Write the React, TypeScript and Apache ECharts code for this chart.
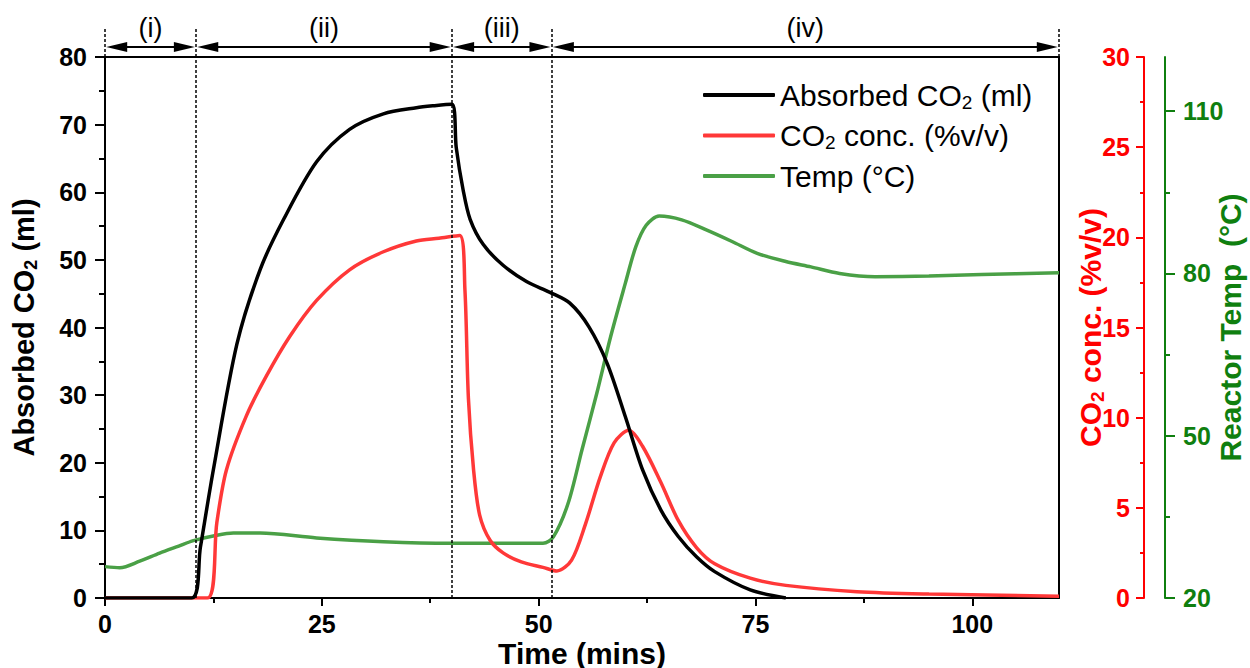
import React, { useEffect, useRef } from 'react';
import * as echarts from 'echarts';

// ---------- data ----------
const absorbedTime = [0, 10.0, 11.0, 12.5, 15.2, 17.9, 20.6, 24.4, 28.2, 32.1, 35.9, 38.0, 40.0, 40.5, 41.3, 42.1, 43.6, 45.9, 48.6, 51.3, 53.6, 55.8, 57.9, 60.0, 62.0, 64.1, 66.1, 68.2, 70.3, 74.4, 78.5];
const absorbedValues = [0, 0, 7.5, 19.0, 37.5, 48.6, 56.0, 64.5, 69.3, 71.6, 72.5, 72.8, 73.0, 66.6, 60.3, 56.0, 52.3, 49.2, 46.8, 45.2, 43.6, 40.1, 34.7, 26.8, 18.9, 13.0, 9.1, 6.1, 3.9, 1.2, 0.0];

const concTime = [0, 11.8, 12.9, 14.0, 16.3, 18.6, 21.3, 24.4, 28.2, 32.1, 35.9, 38.5, 40.9, 41.5, 41.9, 42.5, 43.2, 44.4, 45.9, 48.0, 50.5, 52.1, 53.8, 55.4, 57.1, 58.7, 60.4, 62.0, 64.1, 66.1, 68.2, 70.3, 74.4, 78.5, 86.7, 95.0, 110];
const concValues = [0, 0, 4.2, 7.1, 10.1, 12.3, 14.5, 16.5, 18.2, 19.2, 19.8, 19.95, 20.1, 17.1, 11.1, 7.1, 4.6, 3.2, 2.5, 2.0, 1.7, 1.5, 2.1, 4.1, 6.7, 8.6, 9.3, 8.4, 6.4, 4.3, 2.8, 1.9, 1.1, 0.7, 0.35, 0.22, 0.1];

const tempTime = [0, 1.7, 4.0, 6.3, 8.5, 10.2, 12.9, 14.8, 17.9, 24.4, 32.1, 39.8, 50.5, 51.7, 53.4, 55.0, 56.7, 58.3, 60.0, 61.2, 62.4, 63.9, 66.5, 69.4, 72.3, 75.2, 78.5, 81.4, 84.7, 88.8, 95.0, 101.1, 110];
const tempValues = [25.8, 25.6, 26.8, 28.3, 29.6, 30.6, 31.6, 32.0, 32.0, 31.1, 30.4, 30.1, 30.1, 31.3, 37.5, 47.4, 57.8, 68.3, 78.2, 84.9, 88.9, 90.6, 89.9, 88.0, 85.9, 83.7, 82.2, 81.2, 80.0, 79.4, 79.5, 79.8, 80.1];

const xMajorTicks = [0, 25, 50, 75, 100];
const xMinorTicks = [12.5, 37.5, 62.5, 87.5];
const leftMajorTicks = [0, 10, 20, 30, 40, 50, 60, 70, 80];
const leftMinorTicks = [5, 15, 25, 35, 45, 55, 65, 75];
const concMajorTicks = [0, 5, 10, 15, 20, 25, 30];
const concMinorTicks = [2.5, 7.5, 12.5, 17.5, 22.5, 27.5];
const tempMajorTicks = [20, 50, 80, 110];
const tempMinorTicks = [35, 65, 95];

const stageBounds = [0, 10.5, 40, 51.5, 110];
const stageLabels = ['(i)', '(ii)', '(iii)', '(iv)'];

const seriesNames = ['Absorbed CO2 (ml)', 'CO2 conc. (%v/v)', 'Temp (°C)'];
const legendRich: Record<string, string> = {
  'Absorbed CO2 (ml)': '{n|Absorbed CO}{s|2}{n| (ml)}',
  'CO2 conc. (%v/v)': '{n|CO}{s|2}{n| conc. (%v/v)}',
  'Temp (°C)': '{n|Temp (°C)}',
};

const zip = (xs: number[], ys: number[]) => xs.map((x, i) => [x, ys[i]]);

const ARIAL = "'Liberation Sans', Arial, sans-serif";
const RED = '#ff0000';
const RED_LINE = '#ff3838';
const GREEN = '#0f7f0f';
const GREEN_LINE = '#4aa046';

export default function App() {
  const ref = useRef<HTMLDivElement>(null);

  useEffect(() => {
    if (!ref.current) return;
    const chart = echarts.init(ref.current, undefined, { renderer: 'svg' });

    const tickLabel = (color: string) => ({
      fontFamily: ARIAL,
      fontWeight: 'bold' as const,
      fontSize: 25,
      color,
    });

    const minorAxisBase = {
      axisLine: { show: false, onZero: false },
      axisLabel: { show: false },
      splitLine: { show: false },
    };

    const pad = 1.35;
    const dashStyle = { color: '#000', width: 1.5, type: [3, 2] };

    const option: any = {
      animation: false,
      backgroundColor: '#ffffff',
      grid: [
        { left: 105, right: 191, top: 57, bottom: 70, containLabel: false, outerBoundsMode: 'none' },
        { left: 105, right: 191, top: 28, height: 29, containLabel: false, outerBoundsMode: 'none' },
      ],
      legend: {
        data: seriesNames,
        orient: 'vertical',
        left: 698,
        top: 75,
        icon: 'roundRect',
        itemWidth: 72,
        itemHeight: 4,
        itemGap: 9,
        selectedMode: false,
        formatter: (name: string) => legendRich[name] || name,
        textStyle: {
          color: '#000',
          rich: {
            n: { fontFamily: ARIAL, fontSize: 30, color: '#000' },
            s: { fontFamily: ARIAL, fontSize: 19, color: '#000', padding: [14, 0, 0, 0] },
          },
        },
      },
      xAxis: [
        {
          type: 'value', gridIndex: 0, min: 0, max: 110, position: 'bottom',
          axisLine: { show: true, onZero: false, lineStyle: { color: '#000', width: 2 } },
          axisTick: { show: true, customValues: xMajorTicks, length: 8, lineStyle: { color: '#000', width: 2 } },
          axisLabel: { customValues: xMajorTicks, margin: 13, ...tickLabel('#000') },
          splitLine: { show: false },
          name: 'Time (mins)', nameLocation: 'middle', nameGap: 40, nameMoveOverlap: false,
          nameTextStyle: { fontFamily: ARIAL, fontWeight: 'bold', fontSize: 30, color: '#000' },
        },
        {
          type: 'value', gridIndex: 0, min: 0, max: 110, position: 'bottom', ...minorAxisBase,
          axisTick: { show: true, customValues: xMinorTicks, length: 5, lineStyle: { color: '#000', width: 2 } },
        },
        {
          type: 'value', gridIndex: 0, min: 0, max: 110, position: 'top',
          axisLine: { show: true, onZero: false, lineStyle: { color: '#000', width: 2 } },
          axisTick: { show: false }, axisLabel: { show: false }, splitLine: { show: false },
        },
        { type: 'value', gridIndex: 1, min: 0, max: 110, show: false },
      ],
      yAxis: [
        {
          type: 'value', gridIndex: 0, min: 0, max: 80, position: 'left',
          axisLine: { show: true, onZero: false, lineStyle: { color: '#000', width: 2 } },
          axisTick: { show: true, customValues: leftMajorTicks, length: 10, lineStyle: { color: '#000', width: 2 } },
          axisLabel: { customValues: leftMajorTicks, margin: 18, ...tickLabel('#000') },
          splitLine: { show: false },
          name: '{b|Absorbed CO}{bs|2}{b| (ml)}', nameLocation: 'middle', nameGap: 65, nameRotate: 90,
          nameMoveOverlap: false,
          nameTextStyle: {
            rich: {
              b: { fontFamily: ARIAL, fontWeight: 'bold', fontSize: 29, color: '#000' },
              bs: { fontFamily: ARIAL, fontWeight: 'bold', fontSize: 18, color: '#000', padding: [14, 0, 0, 0] },
            },
          },
        },
        {
          type: 'value', gridIndex: 0, min: 0, max: 80, position: 'left', ...minorAxisBase,
          axisTick: { show: true, customValues: leftMinorTicks, length: 6, lineStyle: { color: '#000', width: 2 } },
        },
        {
          type: 'value', gridIndex: 0, min: 0, max: 80, position: 'right', offset: 0,
          axisLine: { show: true, onZero: false, lineStyle: { color: '#000', width: 2 } },
          axisTick: { show: false }, axisLabel: { show: false }, splitLine: { show: false },
        },
        {
          type: 'value', gridIndex: 0, min: 0, max: 30, position: 'right', offset: 85,
          axisLine: { show: true, onZero: false, lineStyle: { color: RED, width: 2 } },
          axisTick: { show: true, inside: true, customValues: concMajorTicks, length: 8, lineStyle: { color: RED, width: 2 } },
          axisLabel: { inside: true, customValues: concMajorTicks, margin: 14, ...tickLabel(RED) },
          splitLine: { show: false },
          name: '{r|CO}{rs|2}{r| conc. (%v/v)}', nameLocation: 'middle', nameGap: -70, nameRotate: 90,
          nameMoveOverlap: false,
          nameTextStyle: {
            rich: {
              r: { fontFamily: ARIAL, fontWeight: 'bold', fontSize: 30, color: RED },
              rs: { fontFamily: ARIAL, fontWeight: 'bold', fontSize: 19, color: RED, padding: [14, 0, 0, 0] },
            },
          },
        },
        {
          type: 'value', gridIndex: 0, min: 0, max: 30, position: 'right', offset: 85, ...minorAxisBase,
          axisTick: { show: true, inside: true, customValues: concMinorTicks, length: 4, lineStyle: { color: RED, width: 2 } },
        },
        {
          type: 'value', gridIndex: 0, min: 20, max: 120, position: 'right', offset: 106,
          axisLine: { show: true, onZero: false, lineStyle: { color: GREEN, width: 2 } },
          axisTick: { show: true, customValues: tempMajorTicks, length: 10, lineStyle: { color: GREEN, width: 2 } },
          axisLabel: { customValues: tempMajorTicks, margin: 18, ...tickLabel(GREEN) },
          splitLine: { show: false },
          name: 'Reactor Temp  (°C)', nameLocation: 'middle', nameGap: 50, nameRotate: 90,
          nameMoveOverlap: false,
          nameTextStyle: { fontFamily: ARIAL, fontWeight: 'bold', fontSize: 30, color: GREEN },
        },
        {
          type: 'value', gridIndex: 0, min: 20, max: 120, position: 'right', offset: 106, ...minorAxisBase,
          axisTick: { show: true, customValues: tempMinorTicks, length: 5, lineStyle: { color: GREEN, width: 2 } },
        },
        { type: 'value', gridIndex: 1, min: 0, max: 1, show: false },
      ],
      series: [
        {
          name: seriesNames[0], type: 'line', xAxisIndex: 0, yAxisIndex: 0,
          data: zip(absorbedTime, absorbedValues), symbol: 'none', showSymbol: false,
          smooth: 0.3, color: '#000',
          lineStyle: { color: '#000', width: 3.5 }, z: 4,
          markLine: {
            silent: true, symbol: 'none', label: { show: false },
            lineStyle: dashStyle,
            data: [{ xAxis: stageBounds[1] }, { xAxis: stageBounds[2] }, { xAxis: stageBounds[3] }],
          },
        },
        {
          name: seriesNames[1], type: 'line', xAxisIndex: 0, yAxisIndex: 3,
          data: zip(concTime, concValues), symbol: 'none', showSymbol: false,
          smooth: 0.3, color: RED_LINE,
          lineStyle: { color: RED_LINE, width: 3.5 }, z: 3,
        },
        {
          name: seriesNames[2], type: 'line', xAxisIndex: 0, yAxisIndex: 5,
          data: zip(tempTime, tempValues), symbol: 'none', showSymbol: false,
          smooth: 0.3, color: GREEN_LINE,
          lineStyle: { color: GREEN_LINE, width: 3.5 }, z: 2,
        },
        {
          name: 'stages', type: 'line', xAxisIndex: 3, yAxisIndex: 7, data: [],
          markLine: {
            silent: true,
            data: [
              ...stageBounds.map((b) => [
                { coord: [b, 0], symbol: 'none', lineStyle: dashStyle, label: { show: false } },
                { coord: [b, 1], symbol: 'none' },
              ]),
              ...stageLabels.map((lab, i) => [
                {
                  coord: [stageBounds[i] + pad, 0.345], name: lab,
                  symbol: 'triangle', symbolSize: [10, 21],
                  lineStyle: { color: '#000', width: 2, type: 'solid' },
                  label: {
                    show: true, position: 'insideMiddleTop', distance: 5, formatter: '{b}',
                    fontFamily: ARIAL, fontSize: 27, color: '#000',
                  },
                },
                { coord: [stageBounds[i + 1] - pad, 0.345], symbol: 'triangle', symbolSize: [10, 21] },
              ]),
            ],
          },
        },
      ],
    };

    chart.setOption(option);
    return () => chart.dispose();
  }, []);

  return (
    <div
      ref={ref}
      style={{ position: 'fixed', left: 0, top: 0, width: 1250, height: 668, background: '#fff' }}
    />
  );
}
